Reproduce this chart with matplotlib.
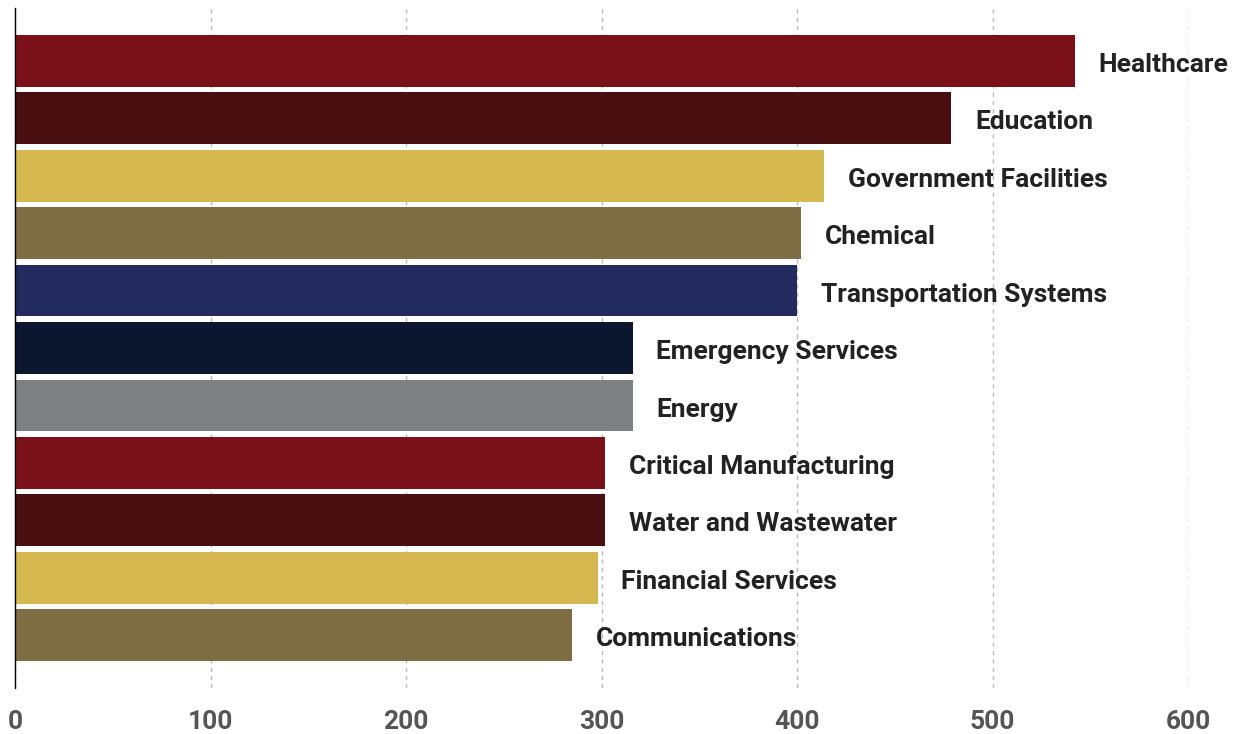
import matplotlib.pyplot as plt

# sectors, top to bottom
sectors = ["Healthcare", "Education", "Government Facilities", "Chemical",
           "Transportation Systems", "Emergency Services", "Energy",
           "Critical Manufacturing", "Water and Wastewater",
           "Financial Services", "Communications"]
counts = [542, 479, 414, 402, 400, 316, 316, 302, 302, 298, 285]
colors = ["#7A1118", "#4A0F10", "#D6B850", "#7F6E44", "#232A5E", "#0C162E",
          "#7F8084", "#7A1118", "#4A0F10", "#D6B850", "#7F6E44"]
ticks = [0, 100, 200, 300, 400, 500, 600]

plt.rcParams['font.family'] = ['Roboto', 'DejaVu Sans']

fig = plt.figure(figsize=(12.33, 7.34), dpi=100)
ax = fig.add_axes([0.0122, 0.0627, 0.9513, 0.9264])

ypos = list(range(len(sectors)))
ax.barh(ypos, counts, height=0.9, color=colors, zorder=2)

# sector name to the right of each bar
for y, v, name in zip(ypos, counts, sectors):
    ax.annotate(name, (v, y), xytext=(17, -3), textcoords='offset points',
                va='center', ha='left', fontsize=19, fontweight='bold',
                color='#222222', annotation_clip=False)

ax.set_xlim(0, 600)
ax.set_ylim(len(sectors) - 1 + 0.92, -0.92)
ax.set_xticks(ticks)
ax.set_yticks([])
ax.tick_params(axis='x', length=0, pad=16, labelsize=19, labelcolor='#555555')
for lbl in ax.get_xticklabels():
    lbl.set_fontweight('bold')

ax.grid(axis='x', color='#BBBBBB', linestyle=(0, (3, 3)), linewidth=1, zorder=0)
for s in ['top', 'right', 'bottom']:
    ax.spines[s].set_visible(False)
ax.spines['left'].set_color('black')
ax.spines['left'].set_linewidth(1)

fig.savefig('out.png', dpi=100)
